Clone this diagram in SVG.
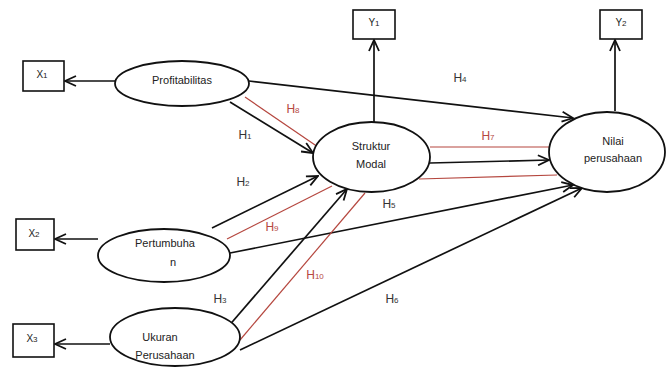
<svg xmlns="http://www.w3.org/2000/svg" width="668" height="371" viewBox="0 0 668 371">
<style>
.node{fill:#fff;stroke:#111;stroke-width:1.8}
.box{fill:#fff;stroke:#111;stroke-width:1.6}
.t{font-family:"Liberation Sans",Arial,sans-serif;font-size:11px;fill:#222;text-anchor:middle}
.b{font-family:"Liberation Sans",Arial,sans-serif;font-size:10px;fill:#222;text-anchor:middle}
.h{font-family:"Liberation Sans",Arial,sans-serif;font-size:12px;fill:#333;text-anchor:middle}
.hr{font-family:"Liberation Sans",Arial,sans-serif;font-size:12px;fill:#b5473f;text-anchor:middle}
.sub{font-size:8px}
.c{fill:none;stroke:#111;stroke-width:1.7}
.r{fill:none;stroke:#b5473f;stroke-width:1.2}
</style>
<defs>
<marker id="ah" viewBox="0 0 13 12" refX="12" refY="6" markerWidth="13" markerHeight="12" markerUnits="userSpaceOnUse" orient="auto">
<path d="M1,1 L12,6 L1,11" fill="none" stroke="#111" stroke-width="1.8"/>
</marker>
</defs>
<g id="connectors">
<line class="c" x1="115" y1="81" x2="65" y2="81" marker-end="url(#ah)"/>
<line class="c" x1="98" y1="239" x2="55" y2="239" marker-end="url(#ah)"/>
<line class="c" x1="110" y1="344" x2="55" y2="344" marker-end="url(#ah)"/>
<line class="c" x1="374" y1="122" x2="374" y2="40" marker-end="url(#ah)"/>
<line class="c" x1="615" y1="111" x2="615" y2="40" marker-end="url(#ah)"/>
<line class="c" x1="249" y1="81" x2="573" y2="118" marker-end="url(#ah)"/>
<line class="c" x1="230" y1="102" x2="313" y2="153" marker-end="url(#ah)"/>
<line class="r" x1="245" y1="97" x2="318" y2="147"/>
<line class="c" x1="212" y1="228" x2="318" y2="176" marker-end="url(#ah)"/>
<line class="r" x1="227" y1="239" x2="332" y2="186"/>
<line class="c" x1="230" y1="253" x2="573" y2="185" marker-end="url(#ah)"/>
<line class="c" x1="240" y1="350" x2="582" y2="188" marker-end="url(#ah)"/>
<line class="c" x1="227" y1="328" x2="347" y2="189" marker-end="url(#ah)"/>
<line class="r" x1="240" y1="340" x2="365" y2="193"/>
<line class="r" x1="430" y1="147" x2="549" y2="147"/>
<line class="c" x1="430" y1="163" x2="549" y2="160" marker-end="url(#ah)"/>
<line class="r" x1="419" y1="179" x2="557" y2="175"/>
<text class="h" x="245" y="139">H<tspan class="sub">1</tspan></text>
<text class="h" x="243" y="186">H<tspan class="sub">2</tspan></text>
<text class="h" x="220" y="303">H<tspan class="sub">3</tspan></text>
<text class="h" x="460" y="82">H<tspan class="sub">4</tspan></text>
<text class="h" x="389" y="208">H<tspan class="sub">5</tspan></text>
<text class="h" x="392" y="303">H<tspan class="sub">6</tspan></text>
<text class="hr" x="488" y="140">H<tspan class="sub">7</tspan></text>
<text class="hr" x="293" y="113">H<tspan class="sub">8</tspan></text>
<text class="hr" x="272" y="231">H<tspan class="sub">9</tspan></text>
<text class="hr" x="315" y="279">H<tspan class="sub">10</tspan></text>
</g>
<g id="X1"><rect class="box" x="23" y="61" width="41" height="30"/><text class="b" x="42" y="78">X<tspan class="sub">1</tspan></text></g>
<g id="X2"><rect class="box" x="16" y="219" width="38" height="31"/><text class="b" x="34" y="237">X<tspan class="sub">2</tspan></text></g>
<g id="X3"><rect class="box" x="13" y="324" width="41" height="33"/><text class="b" x="32" y="342">X<tspan class="sub">3</tspan></text></g>
<g id="Y1"><rect class="box" x="353" y="10" width="42" height="29"/><text class="b" x="374" y="26">Y<tspan class="sub">1</tspan></text></g>
<g id="Y2"><rect class="box" x="600" y="10" width="42" height="29"/><text class="b" x="621" y="26">Y<tspan class="sub">2</tspan></text></g>
<g id="Profitabilitas"><ellipse class="node" cx="182" cy="83.5" rx="67" ry="22.5"/><text class="t" x="182" y="84">Profitabilitas</text></g>
<g id="StrukturModal"><ellipse class="node" cx="371.5" cy="157" rx="58.5" ry="35"/><text class="t" x="371" y="150">Struktur</text><text class="t" x="371" y="168">Modal</text></g>
<g id="NilaiPerusahaan"><ellipse class="node" cx="607" cy="152" rx="58" ry="40"/><text class="t" x="613" y="145">Nilai</text><text class="t" x="613" y="162">perusahaan</text></g>
<g id="Pertumbuhan"><ellipse class="node" cx="164" cy="255.5" rx="66" ry="26.5"/><text class="t" x="165" y="247">Pertumbuha</text><text class="t" x="173" y="266">n</text></g>
<g id="UkuranPerusahaan"><ellipse class="node" cx="175" cy="337" rx="65" ry="29"/><text class="t" x="160" y="341">Ukuran</text><text class="t" x="165" y="359">Perusahaan</text></g>
</svg>
